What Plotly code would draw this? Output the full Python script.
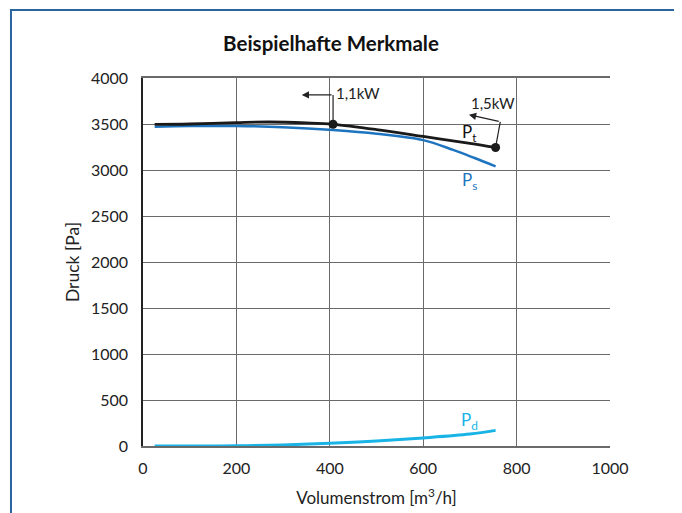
import plotly.graph_objects as go

# Data
flow_pt = [25, 100, 200, 270, 350, 407, 500, 600, 700, 755]
p_t = [3495, 3500, 3515, 3522, 3512, 3497, 3440, 3365, 3290, 3245]
flow_ps = [25, 100, 200, 300, 407, 500, 600, 664, 710, 755]
p_s = [3470, 3478, 3478, 3465, 3435, 3395, 3325, 3218, 3130, 3040]
flow_pd = [25, 100, 200, 300, 400, 500, 600, 700, 755]
p_d = [0, 0, 2, 12, 30, 55, 88, 130, 170]

op_flow = [407, 755]
op_press = [3497, 3245]
op_labels = ["1,1kW", "1,5kW"]

x_ticks = [0, 200, 400, 600, 800, 1000]
y_ticks = [0, 500, 1000, 1500, 2000, 2500, 3000, 3500, 4000]

FONT = "Lato, 'Open Sans', sans-serif"

fig = go.Figure()
fig.add_trace(go.Scatter(x=flow_pd, y=p_d, mode="lines", line=dict(color="#18b4e6", width=3, shape="spline"), showlegend=False))
fig.add_trace(go.Scatter(x=flow_ps, y=p_s, mode="lines", line=dict(color="#1f74c0", width=2.5, shape="spline"), showlegend=False))
fig.add_trace(go.Scatter(x=flow_pt, y=p_t, mode="lines", line=dict(color="#1a1a1a", width=2.8, shape="spline"), showlegend=False))
fig.add_trace(go.Scatter(x=op_flow, y=op_press, mode="markers", marker=dict(color="#1a1a1a", size=9), showlegend=False))

# arrow leader lines (vertical parts)
fig.add_trace(go.Scatter(x=[407, 407], y=[3497, 3816], mode="lines", line=dict(color="#222", width=1.2), showlegend=False))
fig.add_trace(go.Scatter(x=[755, 765], y=[3245, 3524], mode="lines", line=dict(color="#222", width=1.2), showlegend=False))

ann = []
ann.append(dict(x=340, y=3816, ax=407, ay=3816, xref="x", yref="y", axref="x", ayref="y",
                showarrow=True, arrowhead=2, arrowsize=1.2, arrowwidth=1.2, arrowcolor="#222", text=""))
ann.append(dict(x=698, y=3600, ax=765, ay=3524, xref="x", yref="y", axref="x", ayref="y",
                showarrow=True, arrowhead=2, arrowsize=1.2, arrowwidth=1.2, arrowcolor="#222", text=""))
ann.append(dict(x=408, y=3837, xref="x", yref="y", text=op_labels[0], showarrow=False, xanchor="left",
                yanchor="middle", font=dict(family=FONT, size=15, color="#222")))
ann.append(dict(x=698, y=3730, xref="x", yref="y", text=op_labels[1], showarrow=False, xanchor="left",
                yanchor="middle", font=dict(family=FONT, size=15, color="#222")))
ann.append(dict(x=700, y=3400, xref="x", yref="y", text="P<sub>t</sub>", showarrow=False,
                font=dict(family=FONT, size=17, color="#111")))
ann.append(dict(x=700, y=2880, xref="x", yref="y", text="P<sub>s</sub>", showarrow=False,
                font=dict(family=FONT, size=17, color="#1f74c0")))
ann.append(dict(x=700, y=270, xref="x", yref="y", text="P<sub>d</sub>", showarrow=False,
                font=dict(family=FONT, size=17, color="#18b4e6")))

fig.update_layout(
    width=674, height=505,
    margin=dict(l=135, r=72, t=70, b=67, autoexpand=False),
    paper_bgcolor="white", plot_bgcolor="white",
    font=dict(family=FONT, size=16, color="#222"),
    title=dict(text="<b>Beispielhafte Merkmale</b>", x=(331 - 8) / 674, xanchor="center", y=1 - 36 / 505,
               yanchor="middle", yref="container", font=dict(family=FONT, size=20.5, color="#111")),
    annotations=ann,
    shapes=[dict(type="rect", xref="paper", yref="paper", x0=-0.2827, x1=1.1413, y0=-0.3, y1=1.185,
                 line=dict(color="#2a64a0", width=2), layer="above")],
)
fig.update_xaxes(range=[0, 1000], tickvals=x_ticks, showgrid=True, gridcolor="#6a6a6a", gridwidth=1.2,
                 showline=True, linecolor="#6a6a6a", linewidth=1.5, mirror=True, zeroline=False,
                 ticks="", ticklabelstandoff=7, automargin=False,
                 title=dict(text="Volumenstrom [m<sup>3</sup>/h]", standoff=16, font=dict(size=17)))
fig.update_yaxes(range=[0, 4000], tickvals=y_ticks, showgrid=True, gridcolor="#6a6a6a", gridwidth=1.2,
                 showline=True, linecolor="#222", linewidth=1.5, zeroline=False,
                 ticks="", ticklabelstandoff=10, automargin=False,
                 title=dict(text="Druck [Pa]", standoff=7, font=dict(size=17.5)))

fig.write_html("out.html")
